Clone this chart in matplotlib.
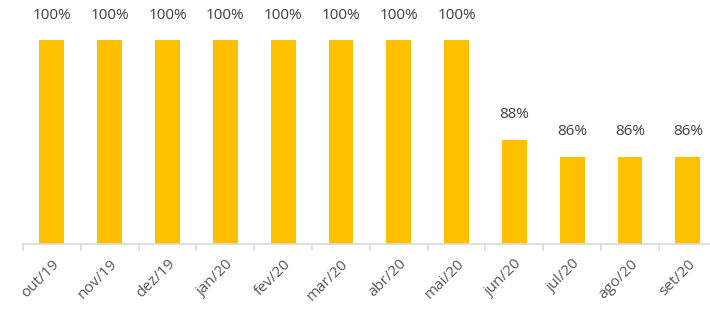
import matplotlib
matplotlib.use("Agg")
from matplotlib import pyplot as plt
import numpy as np

# monthly values (%)
months = ["out/19", "nov/19", "dez/19", "jan/20", "fev/20", "mar/20",
          "abr/20", "mai/20", "jun/20", "jul/20", "ago/20", "set/20"]
values = [100, 100, 100, 100, 100, 100, 100, 100, 87.8, 85.7, 85.7, 85.7]
labels = ["100%"] * 8 + ["88%", "86%", "86%", "86%"]

plt.rcParams["font.family"] = ["Open Sans", "DejaVu Sans"]

fig = plt.figure(figsize=(7.1, 3.09), dpi=100)
ax = fig.add_axes([0.0324, 0.2104, 0.977, 0.660])

x = np.arange(len(months))
bars = ax.bar(x, values, width=0.43, color="#FFC000", zorder=2)

for xi, v, lab in zip(x, values, labels):
    ax.annotate(lab, xy=(xi, v), xytext=(0, 18), textcoords="offset points",
                ha="center", va="center", fontsize=11, color="#404040")

ax.set_ylim(75, 100)
ax.set_xlim(-0.5, len(months) - 0.5)

for s in ["top", "right", "left"]:
    ax.spines[s].set_visible(False)
ax.spines["bottom"].set_color("#d9d9d9")
ax.spines["bottom"].set_linewidth(1.2)
ax.set_yticks([])

ax.set_xticks(x)
ax.set_xticklabels(months, rotation=45, ha="right", rotation_mode="anchor",
                   fontsize=11, color="#595959")
ax.tick_params(axis="x", which="major", length=0, pad=9)
ax.set_xticks(np.arange(len(months)) - 0.5, minor=True)
ax.tick_params(axis="x", which="minor", length=5, color="#d9d9d9", width=1.2)

fig.savefig("out.png", dpi=100)
